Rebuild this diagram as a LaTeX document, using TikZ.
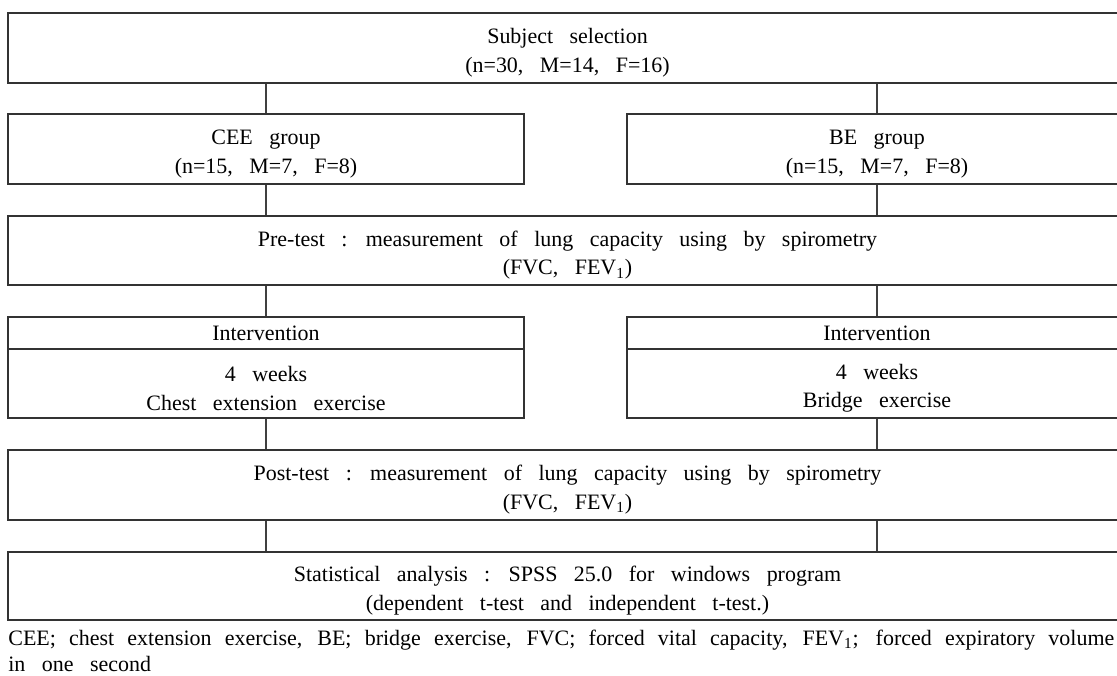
\documentclass[tikz,border=0pt]{standalone}
\usepackage{fontspec}
\setmainfont{Liberation Serif}[WordSpace=3]
\newfontfamily\notefont{Liberation Serif}
\usepackage{tikz}

% a little room above the first line of a box
\newcommand{\topgap}{\rule{0pt}{0.5cm}}

\begin{document}
\begin{tikzpicture}[
	  blk/.style={draw=black!80, line width=0.6pt, inner sep=0pt, align=center,
	    minimum height=1.4cm, font=\fontsize{12.5}{16.2}\selectfont},
	  full/.style={blk, minimum width=22.38cm},
	  half/.style={blk, minimum width=10.32cm},
	  head/.style={minimum height=0.64cm},
	  lnk/.style={draw=black!75, line width=0.6pt},
	]

	\useasboundingbox (0,0) rectangle (22.34,-13.52);

	\node [full] (sel) at (11.35,-0.96) {\topgap Subject selection\\(n=30, M=14, F=16)};
	\node [half] (cee) at (5.32,-2.98) {\topgap CEE group\\(n=15, M=7, F=8)};
	\node [half, minimum width=10cm] (be) at (17.54,-2.98) {\topgap BE group\\(n=15, M=7, F=8)};
	\node [full, minimum height=1.38cm] (pre) at (11.35,-5.01)
	  {\topgap Pre-test : measurement of lung capacity using by spirometry\\(FVC, FEV\textsubscript{1})};

	\node [half, head] (cint) at (5.32,-6.66) {Intervention};
	\node [half, minimum height=1.38cm] (cwk) at (5.32,-7.67) {\topgap 4 weeks\\Chest extension exercise};
	\node [half, head, minimum width=10cm] (bint) at (17.54,-6.66) {Intervention};
	\node [half, minimum width=10cm, minimum height=1.38cm] (bwk) at (17.54,-7.67) {\topgap 4 weeks\\Bridge exercise};

	\node [full] (post) at (11.35,-9.70)
	  {\topgap Post-test : measurement of lung capacity using by spirometry\\(FVC, FEV\textsubscript{1})};
	\node [full, minimum height=1.36cm] (stat) at (11.35,-11.72)
	  {\topgap Statistical analysis : SPSS 25.0 for windows program\\(dependent t-test and independent t-test.)};

	% links between the stages
	\draw [lnk] (sel.south -| cee) -- (cee.north);
	\draw [lnk] (sel.south -| be) -- (be.north);
	\draw [lnk] (cee.south) -- (pre.north -| cee);
	\draw [lnk] (be.south) -- (pre.north -| be);
	\draw [lnk] (pre.south -| cint) -- (cint.north);
	\draw [lnk] (pre.south -| bint) -- (bint.north);
	\draw [lnk] (cwk.south) -- (post.north -| cwk);
	\draw [lnk] (bwk.south) -- (post.north -| bwk);
	\draw [lnk] (post.south -| cee) -- (stat.north -| cee);
	\draw [lnk] (post.south -| be) -- (stat.north -| be);

	% abbreviations
	\node [anchor=base west, inner sep=0pt, font=\notefont\fontsize{12.5}{15}\selectfont] (note1) at (0.16,-12.90)
	  {\makebox[22.12cm][s]{CEE; chest extension exercise, BE; bridge exercise, FVC; forced vital capacity, FEV\textsubscript{1}; forced expiratory volume}};
	\node [anchor=base west, inner sep=0pt, font=\fontsize{12.5}{15}\selectfont] (note2) at (0.16,-13.42) {in one second};
\end{tikzpicture}
\end{document}
